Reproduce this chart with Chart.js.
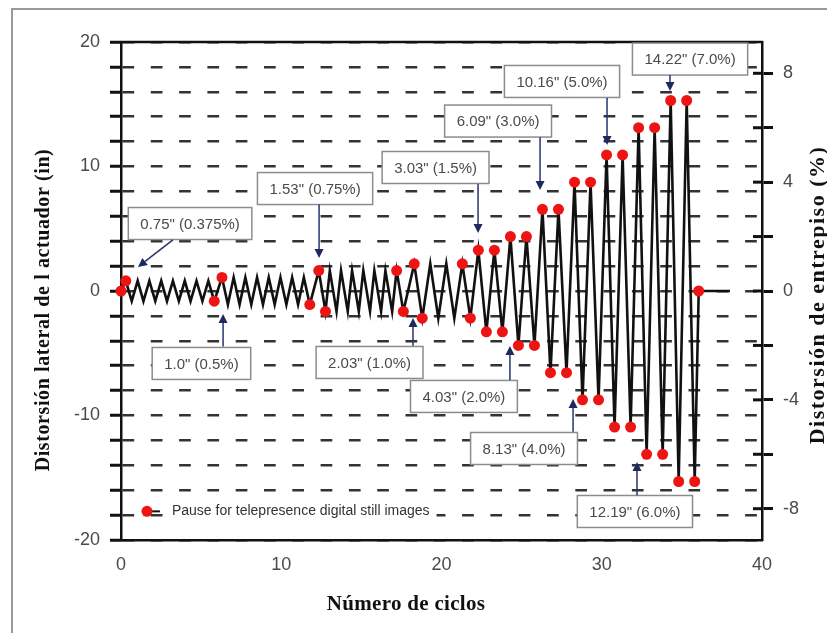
<!DOCTYPE html>
<html>
<head>
<meta charset="utf-8">
<script src="https://cdn.jsdelivr.net/npm/chart.js@4"></script>
<style>
  html, body { margin: 0; padding: 0; background: #fff; }
  #caja { width: 827px; height: 633px; position: relative; }
</style>
</head>
<body>
<div id="caja"><canvas id="grafica"></canvas></div>
<script>
// Historial de carga: número de ciclo y distorsión de entrepiso (%)
const ciclos = [
  0,
  0.30, 0.67, 1.04, 1.40, 1.77, 2.14, 2.51, 2.87, 3.24, 3.61, 3.98, 4.34, 4.71, 5.08, 5.45, 5.82,
  6.30, 6.67, 7.03, 7.40, 7.76, 8.13, 8.49, 8.86, 9.22, 9.59, 9.95, 10.32, 10.68, 11.05, 11.41, 11.78,
  12.34, 12.76, 13.03, 13.45, 13.73, 14.15, 14.42, 14.84, 15.12, 15.54, 15.81, 16.23, 16.50, 16.92, 17.20, 17.62,
  18.3, 18.8, 19.3, 19.8, 20.3, 20.8, 21.3, 21.8,
  22.3, 22.8, 23.3, 23.8,
  24.3, 24.8, 25.3, 25.8,
  26.3, 26.8, 27.3, 27.8,
  28.3, 28.8, 29.3, 29.8,
  30.3, 30.8, 31.3, 31.8,
  32.3, 32.8, 33.3, 33.8,
  34.3, 34.8, 35.3, 35.8,
  36.05, 38.0
];

const deriva = [
  0,
  0.375, -0.375, 0.375, -0.375, 0.375, -0.375, 0.375, -0.375, 0.375, -0.375, 0.375, -0.375, 0.375, -0.375, 0.375, -0.375,
  0.5, -0.5, 0.5, -0.5, 0.5, -0.5, 0.5, -0.5, 0.5, -0.5, 0.5, -0.5, 0.5, -0.5, 0.5, -0.5,
  0.75, -0.75, 0.75, -0.75, 0.75, -0.75, 0.75, -0.75, 0.75, -0.75, 0.75, -0.75, 0.75, -0.75, 0.75, -0.75,
  1, -1, 1, -1, 1, -1, 1, -1,
  1.5, -1.5, 1.5, -1.5,
  2, -2, 2, -2,
  3, -3, 3, -3,
  4, -4, 4, -4,
  5, -5, 5, -5,
  6, -6, 6, -6,
  7, -7, 7, -7,
  0, 0
];

// puntos del historial donde se pausa para tomar imágenes
const pausas = [
  0, 1, 16, 17, 32, 33, 34, 47, 48, 49, 50, 55, 56,
  57, 58, 59, 60, 61, 62, 63, 64, 65, 66, 67, 68, 69, 70, 71, 72,
  73, 74, 75, 76, 77, 78, 79, 80, 81, 82, 83, 84, 85
];

const ticksPulgadas = [-20, -10, 0, 10, 20];
const ticksDeriva = [-8, -4, 0, 4, 8];

// recuadros de amplitud: centro del recuadro y flecha (x en ciclos, y en pulgadas)
const notas = [
  { texto: '0.75" (0.375%)', cx: 4.31, cy: 5.42, desde: [3.24, 4.10], hasta: [1.06, 1.93] },
  { texto: '1.0" (0.5%)', cx: 5.02, cy: -5.82, desde: [6.37, -4.45], hasta: [6.37, -1.85] },
  { texto: '1.53" (0.75%)', cx: 12.11, cy: 8.23, desde: [12.36, 6.95], hasta: [12.36, 2.65] },
  { texto: '2.03" (1.0%)', cx: 15.51, cy: -5.74, desde: [18.22, -4.40], hasta: [18.22, -2.17] },
  { texto: '3.03" (1.5%)', cx: 19.63, cy: 9.92, desde: [22.28, 8.60], hasta: [22.28, 4.66] },
  { texto: '4.03" (2.0%)', cx: 21.40, cy: -8.47, desde: [24.27, -7.15], hasta: [24.27, -4.42] },
  { texto: '6.09" (3.0%)', cx: 23.53, cy: 13.65, desde: [26.15, 12.35], hasta: [26.15, 8.11] },
  { texto: '8.13" (4.0%)', cx: 25.15, cy: -12.65, desde: [28.21, -11.30], hasta: [28.21, -8.67] },
  { texto: '10.16" (5.0%)', cx: 27.52, cy: 16.83, desde: [30.33, 15.50], hasta: [30.33, 11.73] },
  { texto: '12.19" (6.0%)', cx: 32.07, cy: -17.71, desde: [32.20, -16.40], hasta: [32.20, -13.73] },
  { texto: '14.22" (7.0%)', cx: 35.51, cy: 18.63, desde: [34.26, 17.35], hasta: [34.26, 16.06] }
];

const historial = ciclos.map((c, i) => ({ x: c, y: deriva[i] }));
const puntosPausa = pausas.map(i => ({ x: ciclos[i], y: deriva[i] }));

const SANS = '"Liberation Sans", Arial, sans-serif';
const SERIF = '"Liberation Serif", "Times New Roman", serif';
const ROJO = '#ee1414';

function flecha(ctx, x0, y0, x1, y1) {
  const ang = Math.atan2(y1 - y0, x1 - x0);
  const largo = 9, ancho = 4.5;
  const bx = x1 - largo * Math.cos(ang), by = y1 - largo * Math.sin(ang);
  ctx.strokeStyle = '#26346e';
  ctx.fillStyle = '#1d2a60';
  ctx.lineWidth = 1.5;
  ctx.beginPath();
  ctx.moveTo(x0, y0);
  ctx.lineTo(bx, by);
  ctx.stroke();
  ctx.beginPath();
  ctx.moveTo(x1, y1);
  ctx.lineTo(bx + ancho * Math.sin(ang), by - ancho * Math.cos(ang));
  ctx.lineTo(bx - ancho * Math.sin(ang), by + ancho * Math.cos(ang));
  ctx.closePath();
  ctx.fill();
}

function tituloVertical(ctx, texto, x, y, fuente, espacio) {
  ctx.save();
  ctx.translate(x, y);
  ctx.rotate(-Math.PI / 2);
  ctx.font = fuente;
  ctx.letterSpacing = espacio;
  ctx.fillText(texto, 0, 0);
  ctx.restore();
}

const extras = {
  id: 'extras',
  beforeDraw(chart) {
    const ctx = chart.ctx;
    ctx.save();
    ctx.strokeStyle = '#9a9a9a';
    ctx.lineWidth = 2;
    ctx.beginPath();
    ctx.moveTo(12, chart.height + 2);
    ctx.lineTo(12, 9);
    ctx.lineTo(chart.width + 2, 9);
    ctx.stroke();
    ctx.restore();
  },
  afterDraw(chart) {
    const { ctx, chartArea: a, scales } = chart;
    const sx = scales.x, sy = scales.y, sy1 = scales.y1;
    ctx.save();

    // borde superior del área de trazado
    ctx.strokeStyle = '#111';
    ctx.lineWidth = 2.5;
    ctx.beginPath();
    ctx.moveTo(a.left - 1, a.top);
    ctx.lineTo(a.right + 1, a.top);
    ctx.stroke();

    // marcas interiores del eje derecho
    ctx.lineWidth = 3;
    sy1.ticks.forEach(t => {
      const y = sy1.getPixelForValue(t.value);
      ctx.beginPath();
      ctx.moveTo(a.right - 9, y);
      ctx.lineTo(a.right, y);
      ctx.stroke();
    });

    // recuadros con flechas
    ctx.font = '15px ' + SANS;
    notas.forEach(n => {
      const px = sx.getPixelForValue(n.cx);
      const py = sy.getPixelForValue(n.cy);
      const w = ctx.measureText(n.texto).width + 24;
      const h = 32;
      ctx.fillStyle = '#fff';
      ctx.fillRect(px - w / 2, py - h / 2, w, h);
      ctx.strokeStyle = '#8c8c8c';
      ctx.lineWidth = 1.5;
      ctx.strokeRect(px - w / 2, py - h / 2, w, h);
      ctx.fillStyle = '#4a4a4a';
      ctx.textAlign = 'center';
      ctx.textBaseline = 'middle';
      ctx.fillText(n.texto, px, py + 1);
      flecha(ctx,
        sx.getPixelForValue(n.desde[0]), sy.getPixelForValue(n.desde[1]),
        sx.getPixelForValue(n.hasta[0]), sy.getPixelForValue(n.hasta[1]));
    });

    // leyenda dentro del área
    const ds = chart.data.datasets[1];
    const lx = sx.getPixelForValue(1.62), ly = sy.getPixelForValue(-17.7);
    ctx.font = '14px ' + SANS;
    const anchoLeyenda = ctx.measureText(ds.label).width;
    ctx.fillStyle = '#fff';
    ctx.fillRect(lx + 18, ly - 10, anchoLeyenda + 14, 20);
    ctx.strokeStyle = '#111';
    ctx.lineWidth = 2;
    ctx.beginPath();
    ctx.moveTo(lx, ly);
    ctx.lineTo(lx + 13, ly);
    ctx.stroke();
    ctx.fillStyle = ds.pointBackgroundColor;
    ctx.beginPath();
    ctx.arc(lx, ly, ds.pointRadius, 0, Math.PI * 2);
    ctx.fill();
    ctx.fillStyle = '#333';
    ctx.textAlign = 'left';
    ctx.textBaseline = 'middle';
    ctx.fillText(ds.label, lx + 25, ly);

    // títulos de los ejes
    ctx.fillStyle = '#111';
    ctx.textAlign = 'center';
    ctx.textBaseline = 'middle';
    ctx.save();
    ctx.font = 'bold 21px ' + SERIF;
    ctx.letterSpacing = '0.3px';
    ctx.fillText('Número de ciclos', 406, 605);
    ctx.restore();
    tituloVertical(ctx, 'Distorsión lateral de l actuador (in)', 44, 310, 'bold 20px ' + SERIF, '0.6px');
    tituloVertical(ctx, 'Distorsión de entrepiso (%)', 818, 295, 'bold 22px ' + SERIF, '1.5px');

    ctx.restore();
  }
};

new Chart(document.getElementById('grafica'), {
  type: 'scatter',
  data: {
    datasets: [
      {
        label: 'Historial de carga',
        data: historial,
        yAxisID: 'y1',
        showLine: true,
        borderColor: '#111',
        borderWidth: 2.6,
        pointRadius: 0,
        tension: 0,
        clip: false,
        order: 2
      },
      {
        label: 'Pause for telepresence digital still images',
        data: puntosPausa,
        yAxisID: 'y1',
        showLine: false,
        pointRadius: 5.5,
        pointBackgroundColor: ROJO,
        pointBorderWidth: 0,
        clip: false,
        order: 1
      }
    ]
  },
  options: {
    responsive: true,
    maintainAspectRatio: false,
    animation: false,
    layout: { padding: { top: 42, left: 0, right: 0, bottom: 0 } },
    plugins: { legend: { display: false }, tooltip: { enabled: false } },
    scales: {
      x: {
        type: 'linear',
        min: 0,
        max: 40,
        ticks: { stepSize: 10, color: '#4a4a4a', font: { family: SANS, size: 18 }, padding: 14 },
        grid: { drawOnChartArea: false, drawTicks: false },
        border: { color: '#111', width: 2.5 },
        afterFit: s => { s.height = 93; }
      },
      y: {
        position: 'left',
        min: -20,
        max: 20,
        ticks: {
          stepSize: 2,
          autoSkip: false,
          color: '#4a4a4a',
          font: { family: SANS, size: 18 },
          padding: 10,
          callback: v => (ticksPulgadas.includes(v) ? String(v) : '')
        },
        grid: { color: '#333', lineWidth: 2.5, tickLength: 11, tickWidth: 3, tickColor: '#111' },
        border: { color: '#111', width: 2.5, dash: [11.7, 16.6] },
        afterFit: s => { s.width = 121; }
      },
      y1: {
        position: 'right',
        min: -9.15,
        max: 9.15,
        ticks: {
          stepSize: 2,
          includeBounds: false,
          autoSkip: false,
          color: '#4a4a4a',
          font: { family: SANS, size: 18 },
          padding: 10,
          callback: v => (ticksDeriva.includes(v) ? String(v) : '')
        },
        grid: { drawOnChartArea: false, tickLength: 11, tickWidth: 3, tickColor: '#111' },
        border: { color: '#111', width: 2.5 },
        afterFit: s => { s.width = 65; }
      }
    }
  },
  plugins: [extras]
});
</script>
</body>
</html>
